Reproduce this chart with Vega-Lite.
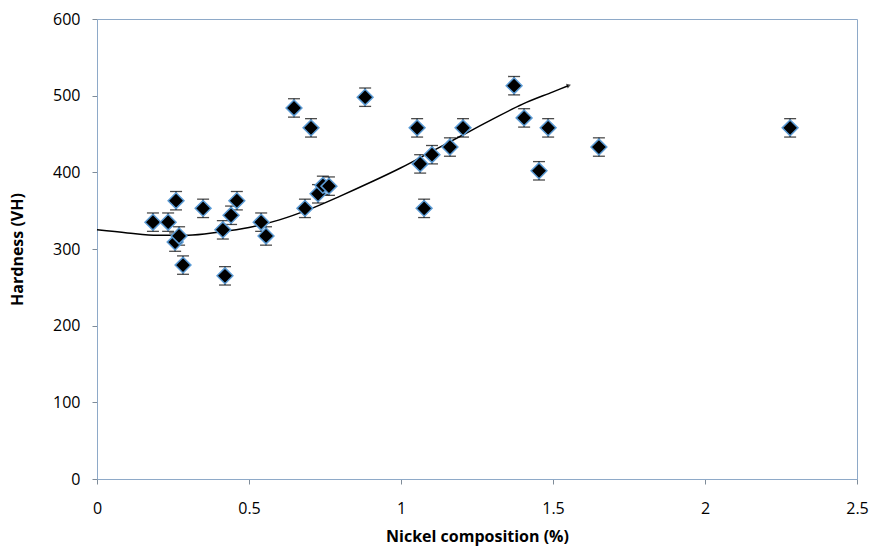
{
  "$schema": "https://vega.github.io/schema/vega-lite/v6.json",
  "width": 760,
  "height": 460,
  "autosize": {"type": "none"},
  "padding": {"left": 97, "top": 19, "right": 24, "bottom": 72},
  "background": "white",
  "config": {
    "view": {"stroke": "#8EA9C8", "strokeWidth": 1},
    "font": "Open Sans",
    "axis": {
      "grid": false,
      "domainColor": "#8EA9C8",
      "tickColor": "#7f8c99",
      "labelFontSize": 16,
      "labelColor": "#000000",
      "titleFontSize": 16,
      "titleFontWeight": "bold",
      "titleColor": "#000000",
      "tickSize": 5
    }
  },
  "datasets": {
    "pts": [
      {"ni": 0.184, "hv": 335, "err": 12},
      {"ni": 0.234, "hv": 335, "err": 12},
      {"ni": 0.26, "hv": 363, "err": 12},
      {"ni": 0.257, "hv": 309, "err": 12},
      {"ni": 0.27, "hv": 317, "err": 12},
      {"ni": 0.283, "hv": 279, "err": 12},
      {"ni": 0.349, "hv": 353, "err": 12},
      {"ni": 0.414, "hv": 325, "err": 12},
      {"ni": 0.421, "hv": 265, "err": 12},
      {"ni": 0.441, "hv": 344, "err": 12},
      {"ni": 0.46, "hv": 363, "err": 12},
      {"ni": 0.54, "hv": 335, "err": 12},
      {"ni": 0.556, "hv": 317, "err": 12},
      {"ni": 0.648, "hv": 484, "err": 12},
      {"ni": 0.704, "hv": 458, "err": 12},
      {"ni": 0.684, "hv": 353, "err": 12},
      {"ni": 0.727, "hv": 372, "err": 12},
      {"ni": 0.743, "hv": 383, "err": 12},
      {"ni": 0.763, "hv": 382, "err": 12},
      {"ni": 0.882, "hv": 498, "err": 12},
      {"ni": 1.053, "hv": 458, "err": 12},
      {"ni": 1.063, "hv": 411, "err": 12},
      {"ni": 1.076, "hv": 353, "err": 12},
      {"ni": 1.102, "hv": 423, "err": 12},
      {"ni": 1.161, "hv": 433, "err": 12},
      {"ni": 1.204, "hv": 458, "err": 12},
      {"ni": 1.372, "hv": 513, "err": 12},
      {"ni": 1.405, "hv": 471, "err": 12},
      {"ni": 1.454, "hv": 402, "err": 12},
      {"ni": 1.484, "hv": 458, "err": 12},
      {"ni": 1.651, "hv": 433, "err": 12},
      {"ni": 2.28, "hv": 458, "err": 12}
    ],
    "trend": [
      {"ni": 0.0, "hv": 325},
      {"ni": 0.1, "hv": 321},
      {"ni": 0.2, "hv": 318},
      {"ni": 0.3, "hv": 318},
      {"ni": 0.4, "hv": 322},
      {"ni": 0.5, "hv": 328},
      {"ni": 0.6, "hv": 338},
      {"ni": 0.7, "hv": 352},
      {"ni": 0.8, "hv": 369},
      {"ni": 0.9, "hv": 387},
      {"ni": 1.0, "hv": 406},
      {"ni": 1.1, "hv": 427},
      {"ni": 1.2, "hv": 448},
      {"ni": 1.3, "hv": 469},
      {"ni": 1.4, "hv": 489},
      {"ni": 1.5, "hv": 505},
      {"ni": 1.55, "hv": 513}
    ],
    "arrow": [{"ni": 1.55, "hv": 513}]
  },
  "layer": [
    {
      "data": {"name": "pts"},
      "mark": {"type": "errorbar", "ticks": {"size": 12, "color": "#000000", "thickness": 1.3}, "rule": {"color": "#000000", "strokeWidth": 1.3}},
      "encoding": {
        "x": {"field": "ni", "type": "quantitative", "scale": {"domain": [0, 2.5], "nice": false},
          "axis": {"values": [0, 0.5, 1, 1.5, 2, 2.5], "format": "~g", "title": "Nickel composition (%)", "titlePadding": 12, "labelPadding": 16, "labelFlush": false}},
        "y": {"field": "hv", "type": "quantitative", "scale": {"domain": [0, 600], "nice": false},
          "axis": {"values": [0, 100, 200, 300, 400, 500, 600], "title": "Hardness (VH)", "titlePadding": 27, "labelPadding": 12}},
        "yError": {"field": "err"}
      }
    },
    {
      "data": {"name": "trend"},
      "mark": {"type": "line", "color": "#000000", "strokeWidth": 1.5, "interpolate": "monotone"},
      "encoding": {
        "x": {"field": "ni", "type": "quantitative"},
        "y": {"field": "hv", "type": "quantitative"}
      }
    },
    {
      "data": {"name": "arrow"},
      "mark": {"type": "point", "shape": "triangle", "filled": true, "color": "#000000", "size": 25, "angle": 70},
      "encoding": {
        "x": {"field": "ni", "type": "quantitative"},
        "y": {"field": "hv", "type": "quantitative"}
      }
    },
    {
      "data": {"name": "pts"},
      "mark": {"type": "point", "shape": "diamond", "filled": true, "fill": "#000000", "stroke": "#5B9BD5", "strokeWidth": 1.5, "size": 250, "opacity": 1},
      "encoding": {
        "x": {"field": "ni", "type": "quantitative"},
        "y": {"field": "hv", "type": "quantitative"}
      }
    }
  ]
}
